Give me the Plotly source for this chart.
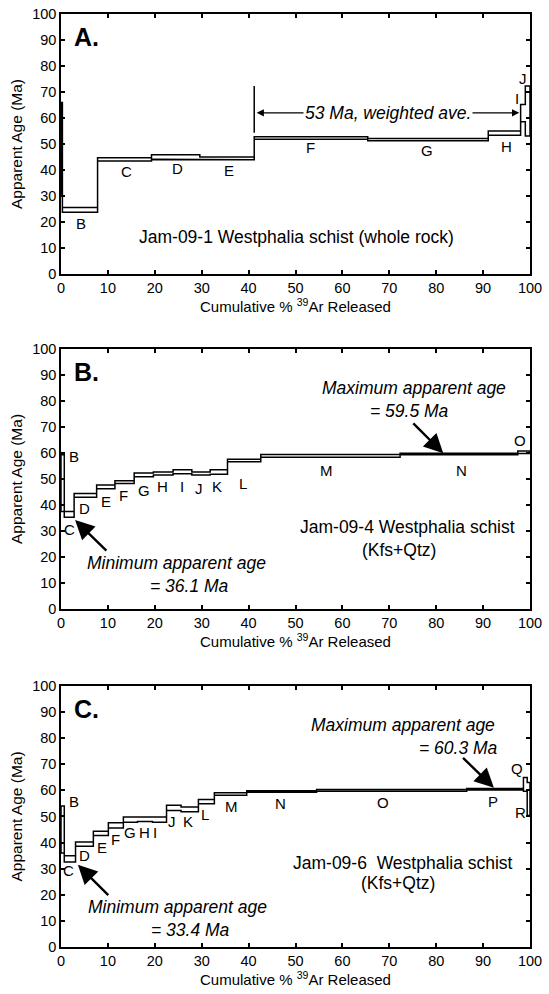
import numpy as np
import plotly.graph_objects as go

# ---------------- data ----------------
# Panel A: Jam-09-1 whole rock
A_steps = ["A", "B", "C", "D", "E", "F", "G", "H", "I", "J"]
A_cum = [0, 0.3, 7.8, 19.3, 29.6, 41.2, 65.4, 91.1, 98.0, 99.0, 100]
A_age = [48.0, 24.7, 44.1, 45.0, 44.5, 52.3, 51.7, 54.2, 61.9, 62.7]
A_err = [18.0, 0.9, 0.6, 0.9, 0.5, 0.5, 0.4, 0.8, 3.3, 9.6]

# Panel B: Jam-09-4 Kfs+Qtz
B_steps = ["B", "C", "D", "E", "F", "G", "H", "I", "J", "K", "L", "M", "N", "O"]
B_cum = [0, 0.7, 2.8, 7.6, 11.5, 15.6, 19.7, 23.9, 27.9, 31.8, 35.5, 42.6, 72.3, 97.4, 100]
B_age = [48.4, 36.4, 43.7, 47.0, 48.8, 51.6, 52.1, 52.8, 52.1, 52.7, 57.1, 58.9, 59.6, 60.3]
B_err = [10.9, 1.1, 0.7, 0.7, 0.5, 0.7, 0.6, 0.8, 0.6, 0.9, 0.5, 0.5, 0.3, 0.5]

# Panel C: Jam-09-6 Kfs+Qtz
C_steps = ["B", "C", "D", "E", "F", "G", "H", "I", "J", "K", "L", "M", "N", "O", "P", "Q", "R"]
C_cum = [0, 0.7, 3.1, 6.9, 10.1, 13.3, 16.3, 19.5, 22.5, 25.6, 29.3, 32.7, 39.6, 54.5, 86.5, 98.6, 99.4, 100]
C_age = [45.0, 33.8, 39.4, 43.5, 46.6, 48.8, 48.9, 48.8, 53.3, 52.7, 55.7, 58.6, 59.6, 60.0, 60.4, 62.3, 56.7]
C_err = [9.0, 1.2, 0.8, 0.8, 1.0, 1.0, 0.8, 1.0, 1.0, 0.9, 0.8, 0.5, 0.3, 0.3, 0.3, 2.6, 6.3]

# label placements (x in %, y in Ma)
A_lab_pos = {"B": (4.3, 19.5), "C": (14.0, 39.3), "D": (24.9, 40.6), "E": (35.9, 39.7),
             "F": (53.1, 48.8), "G": (78.0, 47.4), "H": (95.0, 49.2), "I": (97.2, 67.6),
             "J": (98.6, 75.3)}
B_lab_pos = {"B": (2.8, 58.6), "C": (1.8, 30.6), "D": (5.1, 38.6), "E": (9.6, 41.3),
             "F": (13.3, 43.8), "G": (17.6, 45.4), "H": (21.7, 47.0), "I": (25.7, 47.0),
             "J": (29.4, 46.2), "K": (33.3, 47.0), "L": (38.9, 48.3), "M": (56.6, 53.2),
             "N": (85.4, 53.2), "O": (97.9, 65.0)}
C_lab_pos = {"B": (2.8, 55.6), "C": (1.6, 29.3), "D": (5.0, 35.0), "E": (8.7, 38.2),
             "F": (11.7, 41.2), "G": (14.7, 44.0), "H": (17.8, 44.0), "I": (20.0, 43.7),
             "J": (23.6, 48.0), "K": (27.1, 48.0), "L": (30.7, 50.8), "M": (36.4, 54.0),
             "N": (46.7, 54.9), "O": (68.7, 55.3), "P": (92.2, 55.9), "Q": (97.2, 68.3),
             "R": (97.9, 51.6)}

x_ticks = list(range(0, 101, 10))
y_ticks = list(range(0, 101, 10))

FONT = "Liberation Sans, Arial, Helvetica, sans-serif"
W, H = 549, 994

fig = go.Figure()

domains_y = {1: [0.7243, 0.9859], 2: [0.3873, 0.6489], 3: [0.0473, 0.3099]}
x_dom = [0.1111, 0.9654]


def spectrum_path(cum, age, err):
    cum = np.asarray(cum, float)
    age = np.asarray(age, float)
    err = np.asarray(err, float)
    hi = age + err
    lo = age - err
    xs, ys = [], []
    for i in range(len(age)):
        xs += [cum[i], cum[i + 1]]
        ys += [hi[i], hi[i]]
    for i in range(len(age) - 1, -1, -1):
        xs += [cum[i + 1], cum[i]]
        ys += [lo[i], lo[i]]
    xs.append(cum[0])
    ys.append(hi[0])
    return xs, ys


panels = [
    (1, A_cum, A_age, A_err, A_steps, A_lab_pos),
    (2, B_cum, B_age, B_err, B_steps, B_lab_pos),
    (3, C_cum, C_age, C_err, C_steps, C_lab_pos),
]

annotations = []
for k, cum, age, err, steps, labpos in panels:
    xs, ys = spectrum_path(cum, age, err)
    xa = "x" if k == 1 else f"x{k}"
    ya = "y" if k == 1 else f"y{k}"
    fig.add_trace(go.Scatter(x=xs, y=ys, mode="lines", xaxis=xa, yaxis=ya,
                             line=dict(color="black", width=1.5), showlegend=False,
                             hoverinfo="skip"))
    for s in steps:
        if s in labpos:
            lx, ly = labpos[s]
            annotations.append(dict(x=lx, y=ly, xref=xa, yref=ya, text=s, showarrow=False,
                                    font=dict(family=FONT, size=15, color="black"),
                                    xanchor="center", yanchor="middle"))
    annotations.append(dict(x=5.5, y=91, xref=xa, yref=ya, text="<b>%s.</b>" % "ABC"[k - 1],
                            showarrow=False, font=dict(family=FONT, size=25, color="black"),
                            xanchor="center", yanchor="middle"))

# ---- Panel A extras: plateau bracket and weighted average
plateau_start = A_cum[A_steps.index("F")]
plateau_end = A_cum[A_steps.index("I")]
fig.add_trace(go.Scatter(x=[plateau_start, plateau_start], y=[54.3, 72.3], mode="lines",
                         xaxis="x", yaxis="y", line=dict(color="black", width=1.5),
                         showlegend=False, hoverinfo="skip"))
annotations.append(dict(x=plateau_end - 0.3, y=62, ax=plateau_start + 0.2, ay=62,
                        xref="x", yref="y", axref="x", ayref="y", text="",
                        showarrow=True, arrowhead=2, arrowside="end+start",
                        arrowsize=1.2, arrowwidth=1.2, arrowcolor="black"))
annotations.append(dict(x=69.8, y=62, xref="x", yref="y", text="<i>53 Ma, weighted ave.</i>",
                        showarrow=False, bgcolor="white", borderpad=1,
                        font=dict(family=FONT, size=17.5, color="black")))
annotations.append(dict(x=50.3, y=14.2, xref="x", yref="y",
                        text="Jam-09-1 Westphalia schist (whole rock)", showarrow=False,
                        font=dict(family=FONT, size=17.5, color="black")))

# ---- Panel B extras
txtB = [("<i>Minimum apparent age</i>", 24.7, 17.6), ("<i>= 36.1 Ma</i>", 27.5, 8.8),
        ("<i>Maximum apparent age</i>", 75.3, 84.9), ("<i>= 59.5 Ma</i>", 74.4, 76.3),
        ("Jam-09-4 Westphalia schist", 73.8, 31.7), ("(Kfs+Qtz)", 72.1, 22.7)]
for t, x, y in txtB:
    annotations.append(dict(x=x, y=y, xref="x2", yref="y2", text=t, showarrow=False,
                            font=dict(family=FONT, size=17.5, color="black")))
for (tx, ty), (hx, hy) in [((10.0, 21.9), (3.0, 34.2)), ((74.8, 72.0), (81.5, 59.9))]:
    annotations.append(dict(x=hx, y=hy, ax=tx, ay=ty, xref="x2", yref="y2", axref="x2",
                            ayref="y2", text="", showarrow=True, arrowhead=2, arrowsize=1.6,
                            arrowwidth=2.4, arrowcolor="black"))

# ---- Panel C extras
txtC = [("<i>Minimum apparent age</i>", 24.9, 15.3), ("<i>= 33.4 Ma</i>", 27.7, 6.5),
        ("<i>Maximum apparent age</i>", 72.9, 85.0), ("<i>= 60.3 Ma</i>", 84.8, 76.4),
        ("Jam-09-6  Westphalia schist", 73.0, 32.2), ("(Kfs+Qtz)", 71.9, 24.5)]
for t, x, y in txtC:
    annotations.append(dict(x=x, y=y, xref="x3", yref="y3", text=t, showarrow=False,
                            font=dict(family=FONT, size=17.5, color="black")))
for (tx, ty), (hx, hy) in [((10.4, 19.3), (3.6, 31.5)), ((85.4, 73.0), (92.3, 61.0))]:
    annotations.append(dict(x=hx, y=hy, ax=tx, ay=ty, xref="x3", yref="y3", axref="x3",
                            ayref="y3", text="", showarrow=True, arrowhead=2, arrowsize=1.6,
                            arrowwidth=2.4, arrowcolor="black"))

axis_common = dict(showline=True, linecolor="black", linewidth=1.5, mirror="ticks",
                   ticks="inside", ticklen=4, tickwidth=1.5, tickcolor="black",
                   showgrid=False, zeroline=False, automargin=False,
                   tickfont=dict(family=FONT, size=14.5, color="black"))

layout = dict(width=W, height=H, margin=dict(l=0, r=0, t=0, b=0, pad=0, autoexpand=False),
              paper_bgcolor="white", plot_bgcolor="white", showlegend=False,
              annotations=annotations)
for k in (1, 2, 3):
    xn = "xaxis" if k == 1 else f"xaxis{k}"
    yn = "yaxis" if k == 1 else f"yaxis{k}"
    ya = "y" if k == 1 else f"y{k}"
    xa = "x" if k == 1 else f"x{k}"
    layout[xn] = dict(axis_common, domain=x_dom, range=[0, 100], tickvals=x_ticks,
                      anchor=ya,
                      title=dict(text="Cumulative % <sup>39</sup>Ar Released", standoff=0,
                                 font=dict(family=FONT, size=15, color="black")))
    layout[yn] = dict(axis_common, domain=domains_y[k], range=[0, 100], tickvals=y_ticks,
                      anchor=xa,
                      title=dict(text="Apparent Age (Ma)", standoff=6,
                                 font=dict(family=FONT, size=15.5, color="black")))

fig.update_layout(**layout)
fig.write_html("out.html")
